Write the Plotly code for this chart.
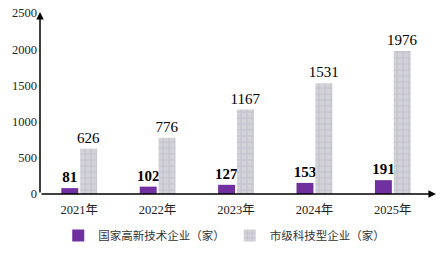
import plotly.graph_objects as go

years = ["2021年", "2022年", "2023年", "2024年", "2025年"]
high_tech = [81, 102, 127, 153, 191]
city_tech = [626, 776, 1167, 1531, 1976]
y_ticks = [0, 500, 1000, 1500, 2000, 2500]

serif = "'Liberation Serif', 'Times New Roman', serif"
cjk = "'Noto Sans CJK SC', 'Liberation Serif', serif"

fig = go.Figure()
fig.add_trace(go.Bar(
    x=years, y=high_tech, name="国家高新技术企业（家）",
    marker=dict(color="#7030a0", line=dict(width=0)),
    texttemplate="<b>%{y}</b>", textposition="outside", constraintext="none",
    textfont=dict(family=serif, size=15, color="#000000"),
    cliponaxis=False,
))
fig.add_trace(go.Bar(
    x=years, y=city_tech, name="市级科技型企业（家）",
    marker=dict(color="#cfcfd6", line=dict(width=0),
                pattern=dict(shape="+", fgcolor="#b0aec2", bgcolor="#d2d2d8",
                             size=6, solidity=0.3)),
    texttemplate="%{y}", textposition="outside", constraintext="none",
    textfont=dict(family=serif, size=15, color="#000000"),
    cliponaxis=False,
))

fig.update_layout(
    width=448, height=256,
    margin=dict(l=40, r=16, t=13, b=62, autoexpand=False),
    paper_bgcolor="white", plot_bgcolor="white",
    barmode="group", bargap=0.52, bargroupgap=0.1,
    font=dict(family=serif, size=12, color="#222222"),
    showlegend=True,
    legend=dict(orientation="h", x=0.47, xanchor="center",
                yref="container", y=0.08, yanchor="middle",
                font=dict(family=cjk, size=11.5, color="#333333"),
                itemwidth=30, tracegroupgap=0, bgcolor="rgba(0,0,0,0)"),
    xaxis=dict(type="category", range=[-0.5, 4.5], showline=False, ticks="",
               ticklabelstandoff=6,
               tickfont=dict(family=serif + ", " + cjk, size=12.5, color="#222222"),
               showgrid=False, zeroline=False),
    yaxis=dict(range=[0, 2500], tickvals=y_ticks, showline=False, ticks="",
               showgrid=False, zeroline=False, ticklabelstandoff=2,
               tickfont=dict(family=serif, size=12.5, color="#222222")),
    annotations=[
        dict(xref="x domain", yref="y domain", x=0, y=1.005, ax=0, ay=0,
             axref="x domain", ayref="y domain", showarrow=True, arrowhead=2,
             arrowsize=1, arrowwidth=1.5, arrowcolor="#000000", text=""),
        dict(xref="x domain", yref="y domain", x=1.01, y=0, ax=0, ay=0,
             axref="x domain", ayref="y domain", showarrow=True, arrowhead=2,
             arrowsize=1, arrowwidth=1.5, arrowcolor="#000000", text=""),
    ],
)

fig.write_html("out.html")
